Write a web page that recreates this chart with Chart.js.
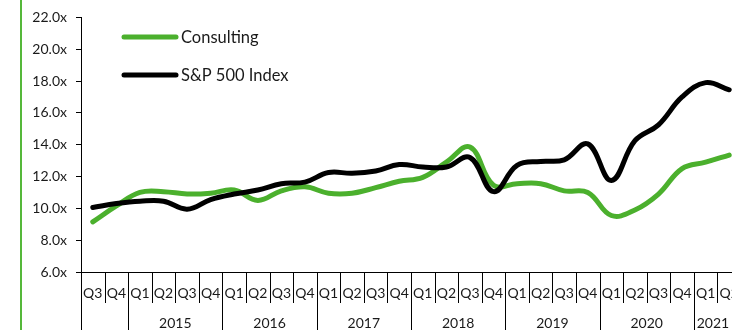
<!DOCTYPE html>
<html>
<head>
<meta charset="utf-8">
<script src="https://cdn.jsdelivr.net/npm/chart.js@4/dist/chart.umd.min.js"></script>
<style>
  html, body { margin: 0; padding: 0; background: #fff; overflow: hidden; }
  #wrap { width: 732px; height: 330px; overflow: hidden; position: relative; }
  #box { width: 741px; height: 330px; position: absolute; left: 0; top: 0; }
</style>
</head>
<body>
<div id="wrap"><div id="box"><canvas id="c"></canvas></div></div>
<script>
// Quarterly valuation multiples, Q3 2014 through Q2 2021
const quarters = ['Q3','Q4',
  'Q1','Q2','Q3','Q4', 'Q1','Q2','Q3','Q4', 'Q1','Q2','Q3','Q4',
  'Q1','Q2','Q3','Q4', 'Q1','Q2','Q3','Q4', 'Q1','Q2','Q3','Q4',
  'Q1','Q2'];
const years = ['','',
  '2015','2015','2015','2015', '2016','2016','2016','2016', '2017','2017','2017','2017',
  '2018','2018','2018','2018', '2019','2019','2019','2019', '2020','2020','2020','2020',
  '2021','2021'];
const consulting = [9.15, 10.15, 11.0, 11.05, 10.9, 10.95, 11.15, 10.5, 11.1, 11.35, 10.95, 10.95, 11.3, 11.7,
  11.95, 12.9, 13.85, 11.45, 11.55, 11.55, 11.1, 11.0, 9.55, 9.9, 10.9, 12.5, 12.9, 13.35];
const sp500 = [10.05, 10.3, 10.45, 10.45, 9.95, 10.55, 10.9, 11.15, 11.55, 11.65, 12.25, 12.2, 12.35, 12.75,
  12.6, 12.6, 13.2, 11.05, 12.7, 12.95, 13.05, 14.05, 11.75, 14.25, 15.25, 17.0, 17.9, 17.45];
const yTicks = { min: 6, max: 22, step: 2 };

const GREEN = '#4bb02d';
const TEXT = '#1a1a1a';
const FONT = 'Lato, "Open Sans", sans-serif';

// Two-row category axis (quarters over years), separator lines, side rule and legend
const decorations = {
  id: 'decorations',
  afterDraw(chart) {
    const ctx = chart.ctx;
    const x = chart.scales.x;
    const area = chart.chartArea;
    const H = chart.height;
    const half = (x.getPixelForValue(1) - x.getPixelForValue(0)) / 2;
    const visibleRight = 732;

    ctx.save();
    // thin green rule at the far left
    ctx.fillStyle = '#55b83a';
    ctx.fillRect(20, 0, 2, H);

    // separators
    ctx.strokeStyle = '#000';
    ctx.lineWidth = 1;
    const base = Math.round(area.bottom);
    for (let i = 0; i <= quarters.length; i++) {
      const px = Math.round(x.getPixelForValue(i) - half) + 0.5;
      const yearEdge = i === 0 || i === quarters.length || years[i] !== years[i - 1];
      ctx.beginPath();
      ctx.moveTo(px, base);
      ctx.lineTo(px, yearEdge ? H : base + 31);
      ctx.stroke();
    }

    // quarter labels
    ctx.fillStyle = TEXT;
    ctx.font = '14px ' + FONT;
    ctx.textAlign = 'center';
    ctx.textBaseline = 'middle';
    quarters.forEach((q, i) => ctx.fillText(q, x.getPixelForValue(i), base + 21));

    // year labels, centred on the visible part of each year's span
    let start = 0;
    for (let i = 1; i <= years.length; i++) {
      if (i === years.length || years[i] !== years[start]) {
        if (years[start]) {
          const l = x.getPixelForValue(start) - half;
          const r = Math.min(x.getPixelForValue(i - 1) + half, visibleRight);
          ctx.fillText(years[start], (l + r) / 2, base + 51);
        }
        start = i;
      }
    }

    // legend
    const items = [
      { label: chart.data.datasets[0].label, color: chart.data.datasets[0].borderColor, y: 37 },
      { label: chart.data.datasets[1].label, color: chart.data.datasets[1].borderColor, y: 75 }
    ];
    ctx.font = '16.5px ' + FONT;
    ctx.textAlign = 'left';
    items.forEach(it => {
      ctx.strokeStyle = it.color;
      ctx.lineWidth = 5;
      ctx.lineCap = 'round';
      ctx.beginPath();
      ctx.moveTo(124, it.y);
      ctx.lineTo(176, it.y);
      ctx.stroke();
      ctx.fillStyle = TEXT;
      ctx.fillText(it.label, 181, it.y + 1);
    });
    ctx.restore();
  }
};

new Chart(document.getElementById('c'), {
  type: 'line',
  data: {
    labels: quarters,
    datasets: [
      {
        label: 'Consulting',
        data: consulting,
        borderColor: GREEN,
        borderWidth: 5,
        order: 1
      },
      {
        label: 'S&P 500 Index',
        data: sp500,
        borderColor: '#000000',
        borderWidth: 5,
        order: 0
      }
    ]
  },
  options: {
    responsive: true,
    maintainAspectRatio: false,
    animation: false,
    events: [],
    layout: { padding: { top: 17, left: 0, right: 0, bottom: 0 } },
    elements: {
      point: { radius: 0 },
      line: { tension: 0.4, borderCapStyle: 'round', borderJoinStyle: 'round' }
    },
    plugins: { legend: { display: false }, tooltip: { enabled: false } },
    scales: {
      x: {
        type: 'category',
        offset: true,
        grid: { display: false },
        border: { display: true, color: '#000', width: 1 },
        ticks: { display: false },
        afterFit(scale) { scale.height = 58; }
      },
      y: {
        min: yTicks.min,
        max: yTicks.max,
        grid: { display: true, drawOnChartArea: false, drawTicks: true, tickLength: 5, color: '#000' },
        border: { display: true, color: '#000', width: 1 },
        ticks: {
          stepSize: yTicks.step,
          padding: 9,
          color: TEXT,
          font: { family: FONT, size: 14 },
          callback: v => v.toFixed(1) + 'x'
        },
        afterFit(scale) { scale.width = 81; }
      }
    }
  },
  plugins: [decorations]
});
</script>
</body>
</html>
